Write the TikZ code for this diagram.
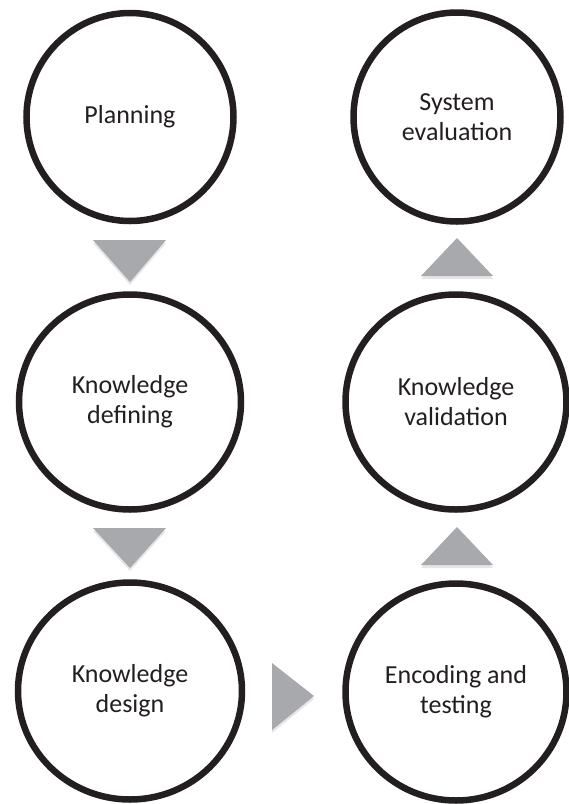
\documentclass[tikz,border=0pt]{standalone}
\usepackage{fontspec}
\setmainfont{Carlito}
\usetikzlibrary{shapes.geometric,shadows}

\definecolor{ringblack}{RGB}{35,31,32}
\definecolor{arrowgray}{RGB}{167,169,172}

\tikzset{
	phase/.style={ellipse,draw=ringblack,line width=6.5pt,fill=white,align=center,
		text=ringblack,font=\fontsize{26}{30}\selectfont,
		drop shadow={opacity=0.25,shadow xshift=1.5pt,shadow yshift=-2.5pt}},
	pointer/.style={fill=arrowgray,draw=none,
		drop shadow={opacity=0.2,shadow xshift=0pt,shadow yshift=-3pt}}
}

\begin{document}
\begin{tikzpicture}[x=1pt,y=-1pt]
		\useasboundingbox (0,0) rectangle (569,804);

		% Left column
		\node[phase,minimum width=207pt,minimum height=208pt] (plan) at (130,117) {Planning};
		\node[phase,minimum width=222pt,minimum height=215pt] (def)  at (130,402) {Knowledge\\defining};
		\node[phase,minimum width=224pt,minimum height=217pt] (des)  at (130,691) {Knowledge\\design};

		% Right column
		\node[phase,minimum width=207pt,minimum height=209pt] (sys) at (457,117) {System\\evaluation};
		\node[phase,minimum width=221pt,minimum height=215pt] (val) at (456,402) {Knowledge\\validation};
		\node[phase,minimum width=221pt,minimum height=217pt] (enc) at (456,692) {Encoding and\\testing};

		% Arrows between the phases
		\fill[pointer] (93,240) -- (166,240) -- (130,282) -- cycle;
		\fill[pointer] (93,528) -- (166,528) -- (130,568) -- cycle;
		\fill[pointer] (272,663) -- (314,696) -- (272,730) -- cycle;
		\fill[pointer] (421,565) -- (493,565) -- (457,527) -- cycle;
		\fill[pointer] (421,276) -- (493,276) -- (457,238) -- cycle;
\end{tikzpicture}
\end{document}
